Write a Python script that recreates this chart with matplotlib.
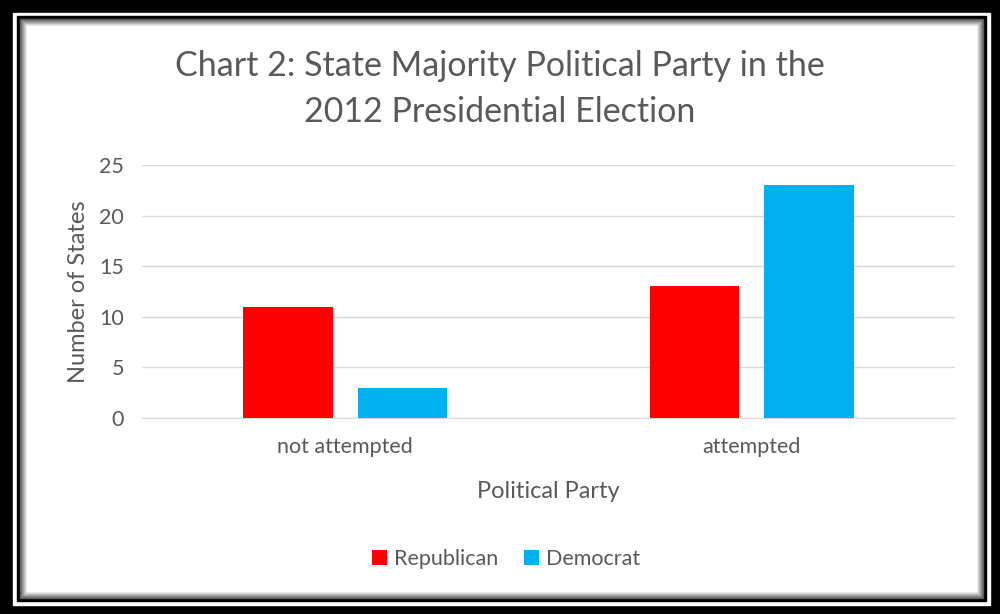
import matplotlib.pyplot as plt
import matplotlib.patches as mpatches
import numpy as np

plt.rcParams['font.family'] = ['Lato', 'DejaVu Sans']

categories = ['not attempted', 'attempted']
republican = [11, 13]
democrat = [3, 23]
series_names = ['Republican', 'Democrat']
colors = ['#ff0000', '#00b0f0']
text_color = '#595959'

W, H = 1000, 614
fig = plt.figure(figsize=(W / 100, H / 100), dpi=100)

# frame: outer black, white gap, inner black line with soft shadow
def px_rect(x0, y0, x1, y1, color):
    fig.patches.append(mpatches.Rectangle((x0 / W, 1 - y1 / H), (x1 - x0) / W, (y1 - y0) / H,
                                          transform=fig.transFigure, color=color, zorder=-10))

px_rect(0, 0, W, H, 'black')
px_rect(13, 13, 990, 605, 'white')
px_rect(17, 16, 986, 601, 'black')
for i in range(8):
    g = 0.25 + 0.75 * (i + 1) / 8
    px_rect(20 + i, 19 + i, 983 - i, 598 - i, (g, g, g))
px_rect(28, 27, 976, 590, 'white')

ax = fig.add_axes([142 / W, 1 - 418 / H, (955 - 142) / W, (418 - 165) / H])
ax.set_facecolor('none')

x = np.arange(len(categories))
bw = 0.221
off = 0.141
ax.bar(x - off, republican, bw, color=colors[0], label=series_names[0], zorder=3)
ax.bar(x + off, democrat, bw, color=colors[1], label=series_names[1], zorder=3)

ax.set_xlim(-0.5, 1.5)
ax.set_ylim(0, 25)
ax.set_yticks(range(0, 26, 5))
ax.grid(axis='y', color='#d9d9d9', linewidth=1, zorder=0)
for s in ['top', 'right', 'left']:
    ax.spines[s].set_visible(False)
ax.spines['bottom'].set_color('#d9d9d9')
ax.tick_params(axis='both', length=0, labelsize=15.5, labelcolor=text_color)
ax.tick_params(axis='y', pad=13)
ax.tick_params(axis='x', pad=14)
ax.set_xticks(x)
ax.set_xticklabels(categories)

ax.set_ylabel('Number of States', fontsize=17, color=text_color, labelpad=7)
ax.set_xlabel('Political Party', fontsize=17, color=text_color, labelpad=17)

fig.text(0.5, 1 - 89 / H, 'Chart 2: State Majority Political Party in the\n2012 Presidential Election',
         ha='center', va='center', fontsize=24.5, color=text_color, linespacing=1.55)

fig.legend(loc='center', bbox_to_anchor=(506 / W, 1 - 559 / H), ncol=2, frameon=False,
           fontsize=15.5, labelcolor=text_color, handlelength=0.7, handleheight=0.7,
           handletextpad=0.3, columnspacing=1.2)

fig.savefig('out.png', dpi=100)
